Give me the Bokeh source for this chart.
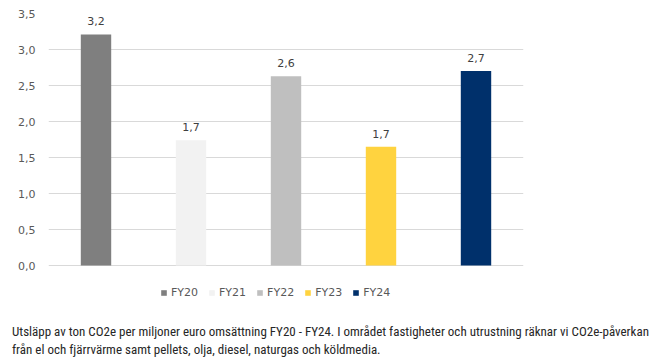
from bokeh.plotting import figure
from bokeh.models import (ColumnDataSource, Range1d, FixedTicker, CustomJSTickFormatter,
                          Legend, LegendItem, Div)
from bokeh.layouts import column
from bokeh.embed import file_html
from bokeh.resources import INLINE
from bokeh.core.properties import value

years = ["FY20", "FY21", "FY22", "FY23", "FY24"]
values = [3.21, 1.74, 2.63, 1.65, 2.70]
labels = ["3,2", "1,7", "2,6", "1,7", "2,7"]
colors = ["#7F7F7F", "#F2F2F2", "#BFBFBF", "#FFD33F", "#00306B"]
y_ticks = [0, 0.5, 1.0, 1.5, 2.0, 2.5, 3.0, 3.5]
caption1 = "Utsläpp av ton CO2e per miljoner euro omsättning FY20 - FY24. I området fastigheter och utrustning räknar vi CO2e-påverkan"
caption2 = "från el och fjärrvärme samt pellets, olja, diesel, naturgas och köldmedia."

src = ColumnDataSource(dict(year=years, val=values, lab=labels, col=colors))

# frame: top at 3.5, extended below 0 so the legend sits inside it
p = figure(x_range=years, y_range=Range1d(-0.625, 3.5), width=666, height=318,
           output_backend="svg", toolbar_location=None,
           min_border_left=48, min_border_right=143, min_border_top=13, min_border_bottom=8)
p.outline_line_color = None
p.background_fill_color = "white"
p.border_fill_color = "white"

r = p.vbar(x="year", top="val", width=0.32, source=src, fill_color="col", line_color=None)

p.text(x="year", y="val", text="lab", source=src, text_align="center", text_baseline="bottom",
       y_offset=-9, text_font_size="11px", text_color="#404040", text_font=value("DejaVu Sans"))

p.xaxis.visible = False
p.xgrid.grid_line_color = None
p.ygrid.grid_line_color = "#D9D9D9"
p.ygrid.ticker = FixedTicker(ticks=y_ticks)
ax = p.yaxis[0]
ax.ticker = FixedTicker(ticks=y_ticks)
ax.formatter = CustomJSTickFormatter(code="return tick.toFixed(1).replace('.', ',');")
ax.axis_line_color = None
ax.major_tick_line_color = None
ax.minor_tick_line_color = None
ax.major_tick_out = 0
ax.major_tick_in = 0
ax.major_label_standoff = 13
ax.major_label_text_font_size = "11px"
ax.major_label_text_color = "#595959"
ax.major_label_text_font = "DejaVu Sans"

items = [LegendItem(label=y, renderers=[r], index=i) for i, y in enumerate(years)]
legend = Legend(items=items, orientation="horizontal", location=(112, 11),
                glyph_width=7, glyph_height=7, label_standoff=4, spacing=10,
                label_text_font_size="11px", label_text_color="#595959",
                label_text_font="DejaVu Sans", label_height=8,
                border_line_color=None, background_fill_alpha=0, padding=0, margin=0)
p.add_layout(legend, "center")

cap = Div(text=caption1 + "<br>" + caption2, width=666,
          styles={"font-family": "'Liberation Sans Narrow', 'Roboto Condensed', 'Arial Narrow', sans-serif",
                  "font-size": "13px", "line-height": "18px", "color": "#262626",
                  "padding-left": "7px", "white-space": "nowrap"})

layout = column(p, cap, spacing=0)
open("out.html", "w").write(file_html(layout, INLINE))
